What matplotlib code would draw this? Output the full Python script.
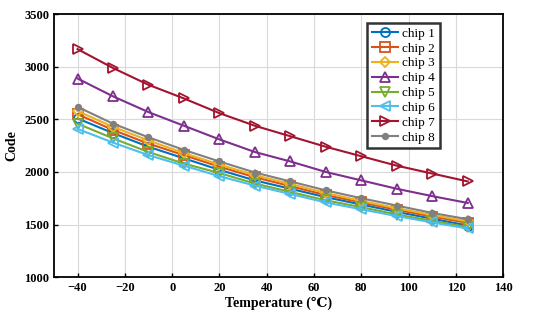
import matplotlib
matplotlib.use("Agg")
import matplotlib.pyplot as plt

# Data
temps = [-40, -25, -10, 5, 20, 35, 50, 65, 80, 95, 110, 125]
chip1 = [2510, 2370, 2240, 2130, 2020, 1920, 1840, 1760, 1690, 1620, 1555, 1490]
chip2 = [2550, 2400, 2270, 2160, 2050, 1950, 1865, 1780, 1710, 1640, 1575, 1515]
chip3 = [2580, 2430, 2300, 2180, 2070, 1970, 1885, 1800, 1725, 1655, 1590, 1530]
chip4 = [2890, 2720, 2570, 2440, 2310, 2190, 2100, 2000, 1920, 1840, 1770, 1705]
chip5 = [2460, 2320, 2190, 2080, 1990, 1890, 1810, 1730, 1665, 1595, 1535, 1475]
chip6 = [2410, 2280, 2160, 2060, 1960, 1870, 1790, 1710, 1645, 1580, 1520, 1462]
chip7 = [3170, 2990, 2830, 2700, 2560, 2440, 2340, 2240, 2150, 2060, 1985, 1910]
chip8 = [2620, 2460, 2330, 2210, 2100, 1995, 1910, 1825, 1750, 1680, 1610, 1550]

series = [chip1, chip2, chip3, chip4, chip5, chip6, chip7, chip8]
labels = ["chip 1", "chip 2", "chip 3", "chip 4", "chip 5", "chip 6", "chip 7", "chip 8"]
colors = ["#0072BD", "#D95319", "#EDB120", "#7E2F8E", "#77AC30", "#4DBEEE", "#A2142F", "#808080"]
markers = ["o", "s", "D", "^", "v", "<", ">", "o"]

plt.rcParams['font.family'] = ['Liberation Serif', 'DejaVu Serif']
plt.rcParams['font.weight'] = 'bold'

fig = plt.figure(figsize=(5.5, 3.21), dpi=100)
ax = fig.add_axes([0.098, 0.137, 0.817, 0.818])

for i in range(len(series)):
    fill = colors[i] if i == 7 else 'none'
    ms = 4 if i == 7 else 6.5
    if markers[i] == "D":
        ms = 5
    ax.plot(temps, series[i], color=colors[i], marker=markers[i], markersize=ms,
            markerfacecolor=fill, markeredgewidth=1.3, linewidth=1.5, label=labels[i])

ax.set_xlim(-50, 140)
ax.set_ylim(1000, 3500)
ax.set_xticks(range(-40, 141, 20))
ax.set_xticklabels([str(t).replace('-', '\u2212') for t in range(-40, 141, 20)])
ax.set_yticks(range(1000, 3501, 500))
ax.grid(True, color='#d9d9d9', linewidth=0.8)
ax.set_axisbelow(True)
for s in ax.spines.values():
    s.set_linewidth(1.3)
ax.tick_params(direction='in', labelsize=9, width=1, length=3, top=False, right=False)

ax.set_xlabel('Temperature (\u2103)', fontsize=10, fontweight='bold', labelpad=2)
ax.set_ylabel('Code', fontsize=10, fontweight='bold', labelpad=4)

leg = ax.legend(loc='upper right', bbox_to_anchor=(0.859, 0.968),
                prop={'size': 9.5, 'weight': 'normal'},
                frameon=True, fancybox=False, edgecolor='black', handlelength=2.0,
                borderpad=0.35, labelspacing=0.2, handletextpad=0.3, borderaxespad=0)
leg.get_frame().set_linewidth(1.8)

fig.savefig('out.png', dpi=100)
